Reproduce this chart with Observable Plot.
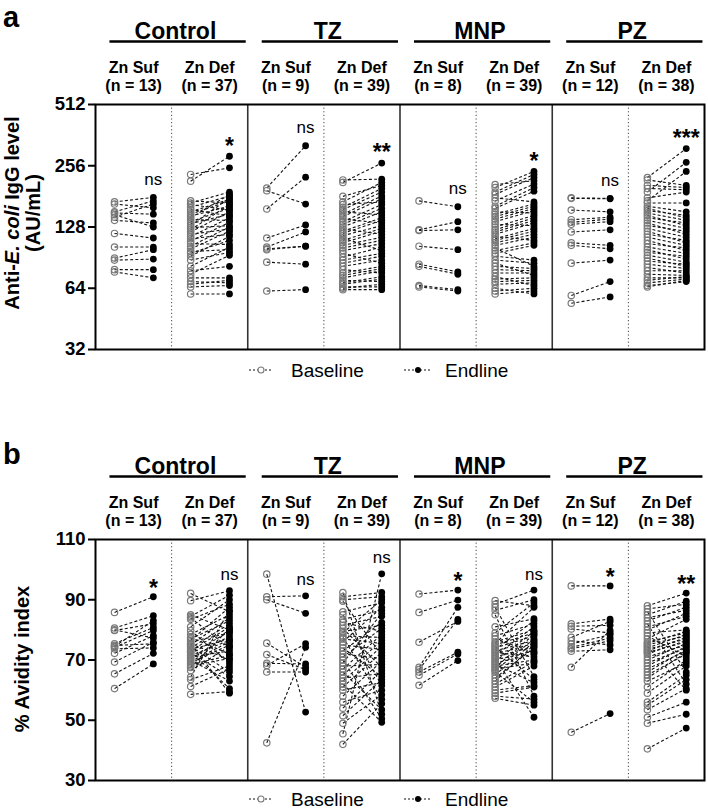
<!DOCTYPE html>
<html><head><meta charset="utf-8">
<script src="https://cdn.jsdelivr.net/npm/d3@7"></script>
<script src="https://cdn.jsdelivr.net/npm/@observablehq/plot@0.6"></script>
<style>
body{margin:0;background:#fff;width:708px;height:810px;overflow:hidden}
#chart svg{display:block}
</style></head><body><div id="chart"></div>
<script>
// ---------- categories / labels ----------
const groups = ["Control", "TZ", "MNP", "PZ"];
const subgroups = ["Zn Suf", "Zn Def"];
const nCounts = [13, 37, 9, 39, 8, 39, 12, 38];
const sigIgG = ["ns", "*", "ns", "**", "ns", "*", "ns", "***"];
const sigAvidity = ["*", "ns", "ns", "ns", "*", "ns", "*", "**"];
const iggTicks = [32, 64, 128, 256, 512];
const avidityTicks = [30, 50, 70, 90, 110];
const legendLabels = ["Baseline", "Endline"];

// ---------- panel a: Anti-E. coli IgG (AU/mL) ----------
const iggCtrlSufBase = [170,166,152,150,147,143,138,119,102,90,88,79,77];
const iggCtrlSufEnd  = [179,159,172,148,128,166,134,113,102,99,89,79,72];
const iggCtrlDefBase = [232,215,172,168,165,160,156,152,148,145,142,139,136,133,130,127,124,121,118,115,112,109,106,103,100,97,95,92,88,82,78,75,72,69,67,65,60];
const iggCtrlDefEnd  = [250,285,168,190,155,182,145,175,172,162,185,138,158,148,178,130,165,152,125,142,118,135,105,128,122,99,110,115,96,102,82,93,72,68,70,66,60];
const iggTzSufBase = [199,193,157,113,102,100,99,86,62];
const iggTzSufEnd  = [321,166,225,131,121,103,103,84,63];
const iggTzDefBase = [218,212,181,170,165,160,156,152,148,144,140,136,132,128,125,122,119,116,113,110,107,104,101,98,95,91,88,85,82,79,76,74,72,70,68,67,65,64,63];
const iggTzDefEnd  = [220,264,205,212,170,198,190,147,182,176,134,165,158,152,118,142,138,130,98,126,122,114,110,106,85,102,95,92,88,76,82,80,78,69,73,71,65,67,63];
const iggMnpSufBase = [172,124,123,103,84,82,66,65];
const iggMnpSufEnd  = [161,136,124,99,77,75,63,62];
const iggMnpDefBase = [207,200,190,185,178,172,162,158,152,148,144,140,136,132,128,124,121,118,115,112,110,107,104,101,98,95,92,88,85,82,79,76,73,71,69,67,64,62,60];
const iggMnpDefEnd  = [216,240,232,224,170,208,200,192,150,166,162,158,154,130,146,142,138,134,110,126,122,118,114,82,107,104,88,85,74,80,78,76,66,72,70,68,60,64,62];
const iggPzSufBase = [178,177,155,139,135,132,121,107,104,85,59,54];
const iggPzSufEnd  = [177,176,152,143,140,136,124,104,100,88,69,58];
const iggPzDefBase = [224,218,205,198,190,178,172,168,162,158,154,150,146,142,138,134,130,126,122,118,114,110,106,102,99,96,93,90,87,84,81,78,75,72,70,68,66,65];
const iggPzDefEnd  = [311,205,200,195,266,190,240,168,152,142,146,138,130,134,126,118,122,114,107,110,104,98,101,95,89,92,86,82,84,80,76,78,74,72,73,71,69,70];

// ---------- panel b: % avidity index ----------
const avCtrlSufBase = [85.8,80.6,80.0,79.8,75.4,74.8,74.5,74.2,73.7,72.2,69.3,65.4,60.5];
const avCtrlSufEnd  = [91.0,84.7,77.3,82.0,80.8,75.4,83.1,79.8,74.0,78.1,75.9,72.2,68.7];
const avCtrlDefBase = [92.1,89.7,85.0,84.5,84.0,83.5,81.0,79.8,78.5,77.5,77.0,76.5,76.0,75.5,75.0,74.5,74.0,73.5,73.0,72.5,72.0,71.5,71.0,70.5,70.0,69.5,69.0,68.5,68.0,67.5,66.5,64.3,63.5,61.2,58.6,72.8,75.2];
const avCtrlDefEnd  = [86.0,93.0,80.0,91.5,74.0,88.5,90.0,69.0,85.0,72.0,83.0,87.5,79.0,70.0,84.0,66.0,82.0,77.0,81.0,64.5,79.5,76.5,73.0,78.0,63.0,76.0,75.0,71.5,70.5,80.5,74.5,86.5,68.0,67.0,59.5,60.5,59.0];
const avTzSufBase = [98.5,91.0,90.0,75.6,71.8,68.9,68.2,66.0,42.5];
const avTzSufEnd  = [52.7,91.3,85.5,67.6,66.8,68.7,75.4,66.0,74.2];
const avTzDefBase = [92.4,91.0,90.0,89.5,86.0,85.0,83.5,82.5,81.5,80.5,79.5,79.0,78.0,77.5,77.0,76.0,75.0,74.0,73.0,72.0,71.0,70.0,69.0,68.0,67.0,66.0,65.0,64.0,63.0,62.0,61.0,60.0,58.0,56.0,54.0,51.5,49.0,45.5,42.0];
const avTzDefEnd  = [52.0,92.4,91.0,71.5,89.0,61.5,86.5,79.5,84.5,67.5,81.5,90.0,77.5,57.0,75.5,87.5,73.5,64.5,82.5,70.5,80.5,50.5,85.5,68.5,78.5,53.5,76.5,65.5,74.5,49.3,72.5,62.5,69.5,60.0,66.5,63.5,58.5,98.6,55.5];
const avMnpSufBase = [91.9,85.8,75.9,67.6,66.8,66.0,64.9,61.6];
const avMnpSufEnd  = [93.2,89.9,82.8,87.5,83.5,72.6,72.0,69.8];
const avMnpDefBase = [89.7,88.5,87.5,86.5,85.0,81.0,79.0,78.0,77.0,76.0,75.5,75.0,74.5,74.0,73.5,73.0,72.5,72.0,71.5,71.0,70.5,70.0,69.5,69.0,68.5,68.0,67.5,67.0,66.5,66.0,65.0,64.0,63.0,62.0,61.0,60.0,59.0,58.0,57.3];
const avMnpDefEnd  = [88.0,93.2,64.5,90.0,58.0,83.7,89.0,82.0,72.5,80.0,87.5,79.0,63.5,78.0,83.0,76.5,71.0,75.5,81.0,74.5,51.0,73.0,79.5,72.0,62.5,70.0,78.5,69.0,77.0,56.0,76.0,74.0,75.0,69.5,68.0,61.5,61.0,57.0,55.0];
const avPzSufBase = [94.6,82.0,81.2,80.3,77.5,76.4,75.3,74.2,73.7,72.9,67.6,46.0];
const avPzSufEnd  = [94.6,83.6,81.5,79.0,82.8,75.0,78.4,77.3,76.4,73.4,79.8,52.2];
const avPzDefBase = [88.0,87.0,86.0,85.0,84.0,83.0,82.0,81.0,80.0,79.0,78.0,77.0,76.0,75.5,75.0,74.5,74.0,73.5,73.0,72.5,72.0,71.0,70.0,69.0,68.0,67.0,66.0,65.0,64.0,63.0,61.0,59.0,56.0,55.0,53.5,51.0,49.0,40.5];
const avPzDefEnd  = [92.2,88.5,66.0,89.5,86.5,87.5,62.0,84.5,85.5,80.0,71.0,83.5,79.0,79.5,78.0,60.0,78.5,77.0,77.5,76.0,76.5,75.0,75.5,74.0,74.5,73.0,73.5,72.0,72.5,69.0,70.0,68.0,65.0,63.5,60.5,56.0,52.0,47.4];

// ---------- assembly ----------
const FONT = "'Liberation Sans', Arial, Helvetica, sans-serif";
const W = 708, ML = 95, MR = 4;
const BX = 0.25, EX = 0.76;

function buildRows(bases, ends) {
  const rows = [];
  bases.forEach((b, c) => b.forEach((v, i) => rows.push({col: c, base: v, end: ends[c][i]})));
  return rows;
}

const iggRows = buildRows(
  [iggCtrlSufBase, iggCtrlDefBase, iggTzSufBase, iggTzDefBase, iggMnpSufBase, iggMnpDefBase, iggPzSufBase, iggPzDefBase],
  [iggCtrlSufEnd, iggCtrlDefEnd, iggTzSufEnd, iggTzDefEnd, iggMnpSufEnd, iggMnpDefEnd, iggPzSufEnd, iggPzDefEnd]);
const avRows = buildRows(
  [avCtrlSufBase, avCtrlDefBase, avTzSufBase, avTzDefBase, avMnpSufBase, avMnpDefBase, avPzSufBase, avPzDefBase],
  [avCtrlSufEnd, avCtrlDefEnd, avTzSufEnd, avTzDefEnd, avMnpSufEnd, avMnpDefEnd, avPzSufEnd, avPzDefEnd]);

function panel(o) {
  const cols = d3.range(8);
  const sigRows = cols.map(c => ({col: c, label: o.sig[c], top: d3.max(o.rows.filter(r => r.col === c), r => r.end)}));
  const subRows = cols.map(c => ({c, sub: subgroups[c % 2], n: `(n = ${nCounts[c]})`}));
  const plot = Plot.plot({
    width: W, height: o.height, marginTop: o.marginTop, marginBottom: o.marginBottom,
    marginLeft: ML, marginRight: MR,
    style: {fontFamily: FONT, background: "#fff", color: "#000", overflow: "visible"},
    x: {domain: [0, 8], axis: null},
    y: {...o.yScale, axis: null},
    marks: [
      Plot.ruleX([1, 3, 5, 7], {stroke: "#444", strokeWidth: 1, strokeDasharray: "1.2,2.4"}),
      Plot.ruleX([2, 4, 6], {stroke: "#333", strokeWidth: 1.6}),
      Plot.link(o.rows, {x1: d => d.col + BX, y1: "base", x2: d => d.col + EX, y2: "end",
        stroke: "#111", strokeWidth: 1.1, strokeDasharray: "3,2.2"}),
      Plot.dot(o.rows, {x: d => d.col + BX, y: "base", r: 3.2, stroke: "#7a7a7a", strokeWidth: 1.2, fill: "none"}),
      Plot.dot(o.rows, {x: d => d.col + EX, y: "end", r: 3.4, fill: "#000", stroke: "none"}),
      Plot.text(sigRows.filter(d => d.label === "ns"), {x: d => d.col + EX, y: "top", text: "label", dy: o.nsDy, fontSize: 17}),
      Plot.text(sigRows.filter(d => d.label !== "ns"), {x: d => d.col + EX, y: "top", text: "label", dy: o.starDy, fontSize: 23, fontWeight: "bold"}),
      Plot.axisY({ticks: o.ticks, tickFormat: d => String(d), tickSize: 7, tickPadding: 3,
        fontSize: 18.5, fontWeight: "bold", strokeWidth: 2, label: null}),
      Plot.frame({stroke: "#000", strokeWidth: 2}),
      Plot.text(groups, {x: (d, i) => 2 * i + 1.05, frameAnchor: "top", dy: -82, text: d => d, fontSize: 23, fontWeight: "bold"}),
      Plot.text(subRows, {x: d => d.c + 0.5, frameAnchor: "top", dy: -42.5, text: "sub", fontSize: 16, fontWeight: "bold"}),
      Plot.text(subRows, {x: d => d.c + 0.5, frameAnchor: "top", dy: -24.5, text: "n", fontSize: 16, fontWeight: "bold"})
    ]
  });

  const svg = d3.select(plot);
  const xs = plot.scale("x");
  const g = svg.append("g").attr("font-family", FONT).attr("text-anchor", "start").attr("font-size", 19);
  // group underlines
  g.selectAll("line.u").data(groups).join("line")
    .attr("x1", (d, i) => xs.apply(2 * i + 0.19)).attr("x2", (d, i) => xs.apply(2 * i + 1.98))
    .attr("y1", o.marginTop - 62.5).attr("y2", o.marginTop - 62.5)
    .attr("stroke", "#000").attr("stroke-width", 2.6);
  // panel letter
  g.append("text").attr("x", 3).attr("y", o.letterY)
    .attr("text-anchor", "start").attr("font-size", 29).attr("font-weight", "bold").text(o.letter);
  // y title
  o.title(g);
  // legend
  const ly = o.legendY;
  const leg = g.append("g");
  leg.append("line").attr("x1", 249).attr("x2", 273).attr("y1", ly).attr("y2", ly)
    .attr("stroke", "#111").attr("stroke-dasharray", "2,2");
  leg.append("circle").attr("cx", 261).attr("cy", ly).attr("r", 3).attr("fill", "#fff")
    .attr("stroke", "#7a7a7a").attr("stroke-width", 1.1);
  leg.append("text").attr("x", 291).attr("y", ly).attr("dy", "0.35em").attr("text-anchor", "start")
    .attr("font-size", 19).text(legendLabels[0]);
  leg.append("line").attr("x1", 404).attr("x2", 432).attr("y1", ly).attr("y2", ly)
    .attr("stroke", "#111").attr("stroke-dasharray", "2,2");
  leg.append("circle").attr("cx", 418).attr("cy", ly).attr("r", 3).attr("fill", "#000");
  leg.append("text").attr("x", 445).attr("y", ly).attr("dy", "0.35em").attr("text-anchor", "start")
    .attr("font-size", 19).text(legendLabels[1]);
  return plot;
}

const chart = document.getElementById("chart");

chart.appendChild(panel({
  letter: "a", letterY: 27, height: 435, marginTop: 104, marginBottom: 86,
  yScale: {type: "log", base: 2, domain: [32, 512]}, ticks: iggTicks,
  rows: iggRows, sig: sigIgG, nsDy: -18, starDy: -10, legendY: 370,
  title: g => {
    const t1 = g.append("text").attr("transform", "translate(12,213) rotate(-90)")
      .attr("text-anchor", "middle").attr("dy", "0.35em").attr("font-size", 20).attr("font-weight", "bold");
    t1.append("tspan").text("Anti-");
    t1.append("tspan").attr("font-style", "italic").text("E. coli");
    t1.append("tspan").text(" IgG level");
    g.append("text").attr("transform", "translate(33,213) rotate(-90)")
      .attr("text-anchor", "middle").attr("dy", "0.35em").attr("font-size", 20).attr("font-weight", "bold")
      .text("(AU/mL)");
  }
}));

chart.appendChild(panel({
  letter: "b", letterY: 29, height: 375, marginTop: 104, marginBottom: 30,
  yScale: {type: "linear", domain: [30, 110]}, ticks: avidityTicks,
  rows: avRows, sig: sigAvidity, nsDy: -16, starDy: -8, legendY: 364,
  title: g => {
    g.append("text").attr("transform", "translate(22,224) rotate(-90)")
      .attr("text-anchor", "middle").attr("dy", "0.35em").attr("font-size", 20).attr("font-weight", "bold")
      .text("% Avidity index");
  }
}));
</script></body></html>
